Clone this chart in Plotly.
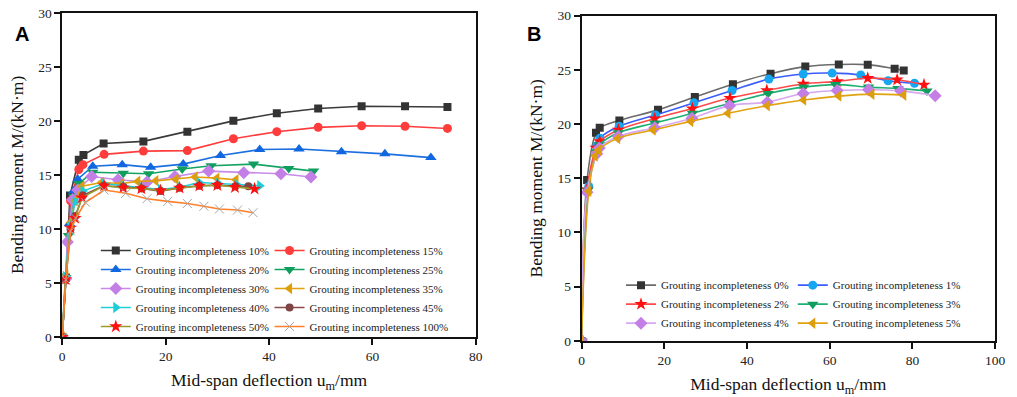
import plotly.graph_objects as go

W, H = 1017, 397
FONT = "Times New Roman, Liberation Serif, serif"

# ---------------- Panel A data ----------------
a_labels = ["10%", "15%", "20%", "25%", "30%", "35%", "40%", "45%", "50%", "100%"]

a_x_10 = [0, 0.7, 1.5, 3.2, 4.1, 8.0, 15.7, 24.2, 33.1, 41.5, 49.5, 57.9, 66.3, 74.5]
a_y_10 = [0, 5.5, 13.1, 16.4, 16.85, 17.9, 18.1, 19.0, 20.0, 20.7, 21.15, 21.35, 21.35, 21.28]

a_x_15 = [0, 0.7, 1.6, 3.2, 4.0, 8.1, 15.7, 24.2, 33.1, 41.5, 49.5, 57.9, 66.3, 74.5]
a_y_15 = [0, 5.4, 12.6, 15.5, 15.95, 16.9, 17.2, 17.25, 18.35, 19.0, 19.4, 19.55, 19.5, 19.3]

a_x_20 = [0, 0.7, 1.4, 2.2, 3.0, 5.9, 11.6, 17.1, 23.4, 30.6, 38.2, 45.8, 54.0, 62.4, 71.3]
a_y_20 = [0, 5.6, 10.5, 13.5, 14.6, 15.8, 15.95, 15.7, 16.0, 16.8, 17.35, 17.4, 17.15, 16.95, 16.6]

a_x_25 = [0, 0.7, 1.2, 2.2, 3.2, 5.9, 11.8, 16.7, 23.2, 28.8, 37.0, 43.8, 48.6]
a_y_25 = [0, 5.5, 9.4, 13.0, 14.2, 15.25, 15.15, 15.1, 15.55, 15.85, 16.0, 15.6, 15.35]

a_x_30 = [0, 0.7, 1.0, 2.0, 3.0, 5.7, 10.8, 16.4, 21.8, 28.3, 35.1, 42.3, 48.1]
a_y_30 = [0, 5.4, 8.8, 12.7, 13.6, 14.85, 14.55, 14.35, 14.85, 15.35, 15.2, 15.1, 14.8]

a_x_35 = [0, 0.7, 1.6, 2.5, 3.8, 7.6, 11.5, 14.6, 18.1, 22.0, 25.7, 29.9, 33.6]
a_y_35 = [0, 5.7, 10.6, 12.6, 13.95, 14.3, 14.2, 14.4, 14.45, 14.6, 14.8, 14.7, 14.55]

a_x_40 = [0, 0.6, 1.5, 2.5, 4.0, 8.0, 11.8, 15.3, 19.0, 22.7, 26.5, 30.2, 33.8, 38.2]
a_y_40 = [0, 5.6, 10.2, 12.5, 13.5, 14.2, 14.0, 13.85, 13.65, 13.85, 14.3, 14.2, 14.1, 14.0]

a_x_45 = [0, 0.7, 1.6, 2.5, 4.0, 8.0, 11.8, 15.4, 19.0, 22.7, 26.5, 30.0, 33.5, 36.0]
a_y_45 = [0, 5.3, 10.0, 11.2, 13.1, 14.0, 13.9, 13.75, 13.5, 13.8, 14.0, 14.05, 13.95, 13.95]

a_x_50 = [0, 0.64, 1.6, 2.5, 3.8, 8.1, 11.8, 15.3, 19.0, 22.7, 26.5, 30.0, 33.4, 37.2]
a_y_50 = [0, 5.34, 10.1, 11.0, 12.9, 14.0, 13.8, 13.74, 13.56, 13.8, 13.98, 14.04, 13.86, 13.71]

a_x_100 = [0, 0.7, 1.6, 2.6, 4.5, 8.1, 12.3, 16.4, 20.4, 24.2, 27.4, 30.4, 33.9, 36.9]
a_y_100 = [0, 5.3, 9.8, 11.0, 12.46, 13.6, 13.3, 12.8, 12.55, 12.35, 12.1, 11.85, 11.75, 11.5]

# ---------------- Panel B data ----------------
b_labels = ["0%", "1%", "2%", "3%", "4%", "5%"]

b_x_0 = [0, 1.35, 3.5, 4.4, 9.15, 18.5, 27.4, 36.6, 45.7, 54.1, 62.2, 69.2, 75.7, 77.9]
b_y_0 = [0, 14.84, 19.2, 19.65, 20.34, 21.31, 22.5, 23.68, 24.65, 25.3, 25.5, 25.48, 25.1, 24.95]

b_x_1 = [0, 1.75, 3.7, 4.45, 9.1, 17.9, 27.2, 36.4, 45.3, 53.6, 60.6, 67.5, 74.1, 80.5]
b_y_1 = [0, 14.25, 18.0, 18.7, 19.8, 20.84, 21.96, 23.1, 24.15, 24.62, 24.7, 24.53, 24.0, 23.77]

b_x_2 = [0, 1.35, 3.5, 4.4, 8.9, 17.7, 26.8, 35.9, 44.8, 53.6, 61.8, 69.2, 76.3, 82.8]
b_y_2 = [0, 13.95, 17.8, 18.4, 19.45, 20.5, 21.43, 22.4, 23.1, 23.7, 23.94, 24.23, 24.09, 23.62]

b_x_3 = [0, 1.5, 3.7, 4.4, 8.9, 17.7, 26.8, 35.9, 45.1, 53.7, 61.4, 69.4, 76.5, 83.5]
b_y_3 = [0, 13.9, 17.44, 18.1, 19.2, 20.1, 20.99, 21.93, 22.82, 23.41, 23.64, 23.41, 23.29, 23.06]

b_x_4 = [0, 1.35, 3.7, 4.3, 8.9, 17.7, 26.7, 35.8, 44.9, 53.6, 61.8, 69.4, 77.2, 85.5]
b_y_4 = [0, 13.7, 17.26, 17.8, 18.86, 19.66, 20.54, 21.7, 22.02, 22.82, 23.09, 23.17, 23.06, 22.61]

b_x_5 = [0, 1.75, 3.3, 4.1, 8.75, 17.3, 26.4, 35.4, 44.9, 53.7, 62.2, 70.2, 77.9]
b_y_5 = [0, 13.8, 17.06, 17.59, 18.68, 19.45, 20.25, 21.0, 21.7, 22.22, 22.58, 22.76, 22.67]

fig = go.Figure()


def add(x, y, name, xa, ya, line_color, marker_color, symbol, size, legend, shape="linear"):
    fig.add_trace(go.Scatter(
        x=x, y=y, name="Grouting incompleteness " + name, mode="lines+markers",
        xaxis=xa, yaxis=ya, legend=legend,
        line=dict(color=line_color, width=1.6, shape=shape, smoothing=1.0),
        marker=dict(color=marker_color, symbol=symbol, size=size,
                    line=dict(width=1 if symbol == "x-thin" else 0, color=marker_color)),
    ))


# Panel A traces
add(a_x_10, a_y_10, a_labels[0], "x", "y", "#3a3a3a", "#333333", "square", 8, "legend")
add(a_x_15, a_y_15, a_labels[1], "x", "y", "#ff3c3c", "#ff3c3c", "circle", 9, "legend2")
add(a_x_20, a_y_20, a_labels[2], "x", "y", "#1c6fe0", "#1067e0", "triangle-up", 10, "legend")
add(a_x_25, a_y_25, a_labels[3], "x", "y", "#13a463", "#0f9e5e", "triangle-down", 10, "legend2")
add(a_x_30, a_y_30, a_labels[4], "x", "y", "#c98aea", "#c47fe6", "diamond", 10, "legend")
add(a_x_35, a_y_35, a_labels[5], "x", "y", "#e0a20e", "#dd9d0c", "triangle-left", 10, "legend2")
add(a_x_40, a_y_40, a_labels[6], "x", "y", "#20d0d8", "#1fcdd6", "triangle-right", 10, "legend")
add(a_x_45, a_y_45, a_labels[7], "x", "y", "#8a4c4c", "#804444", "circle", 8, "legend2")
add(a_x_50, a_y_50, a_labels[8], "x", "y", "#9c9c2c", "#ff1010", "star", 10, "legend")
add(a_x_100, a_y_100, a_labels[9], "x", "y", "#ff7f2a", "#a8a8a8", "x-thin", 9, "legend2")

# Panel B traces (smoothed)
add(b_x_0, b_y_0, b_labels[0], "x2", "y2", "#6b6b6b", "#333333", "square", 8, "legend3", "spline")
add(b_x_1, b_y_1, b_labels[1], "x2", "y2", "#3a5cff", "#16a6f2", "circle", 9, "legend4", "spline")
add(b_x_2, b_y_2, b_labels[2], "x2", "y2", "#ff4a4a", "#ff1010", "star", 10, "legend3", "spline")
add(b_x_3, b_y_3, b_labels[3], "x2", "y2", "#1fae73", "#0f9e5e", "triangle-down", 10, "legend4", "spline")
add(b_x_4, b_y_4, b_labels[4], "x2", "y2", "#d7a8f0", "#c47fe6", "diamond", 10, "legend3", "spline")
add(b_x_5, b_y_5, b_labels[5], "x2", "y2", "#e0a20e", "#dd9d0c", "triangle-left", 10, "legend4", "spline")


def px_x(p):
    return p / W


def px_y(p):
    return 1 - p / H


A_XD = [px_x(60), px_x(479)]
A_YD = [px_y(343), px_y(6)]
B_XD = [px_x(586), px_x(1005)]
B_YD = [px_y(347), px_y(9)]

tick_font = dict(family=FONT, size=13.5, color="#222")
title_font = dict(family=FONT, size=17.5, color="#111")


def main_axis(domain, rng, dtick, anchor, title, standoff):
    return dict(
        domain=domain, range=rng, dtick=dtick, tick0=0, anchor=anchor,
        showgrid=False, zeroline=False, showline=True, linecolor="#111", linewidth=1.5,
        mirror=True, ticks="outside", ticklen=6, tickwidth=1.5, tickcolor="#111",
        tickfont=tick_font, title=dict(text=title, font=title_font, standoff=standoff),
    )


def overlay_axis(domain, rng, dtick, overlaying, anchor, minor_dtick):
    return dict(
        domain=domain, range=rng, dtick=dtick, tick0=0, overlaying=overlaying, anchor=anchor,
        showgrid=False, zeroline=False, showline=False, showticklabels=False,
        ticks="inside", ticklen=6, tickwidth=1.5, tickcolor="#111",
        minor=dict(dtick=minor_dtick, tick0=0, ticks="inside", ticklen=3.5, tickwidth=1.2,
                   tickcolor="#111", showgrid=False),
    )


XT = "Mid-span deflection u<sub>m</sub>/mm"
YT = "Bending moment M/(kN·m)"

fig.update_layout(
    width=W, height=H, margin=dict(l=0, r=0, t=0, b=0),
    paper_bgcolor="white", plot_bgcolor="white", showlegend=True,
    font=dict(family=FONT, color="#222"),
    xaxis=main_axis(A_XD, [0, 80], 20, "y", XT, 11),
    yaxis=main_axis(A_YD, [0, 30], 5, "x", YT, 10),
    xaxis2=main_axis(B_XD, [0, 100], 20, "y2", XT, 11),
    yaxis2=main_axis(B_YD, [0, 30], 5, "x2", YT, 10),
    xaxis3=overlay_axis(A_XD, [0, 80], 20, "x", "y", 10),
    yaxis3=overlay_axis(A_YD, [0, 30], 5, "y", "x", 2.5),
    xaxis4=overlay_axis(B_XD, [0, 100], 20, "x2", "y2", 10),
    yaxis4=overlay_axis(B_YD, [0, 30], 5, "y2", "x2", 2.5),
)

leg_common = dict(font=dict(family=FONT, size=11, color="#222"), bgcolor="rgba(0,0,0,0)",
                  borderwidth=0, xanchor="left", yanchor="top", orientation="v",
                  tracegroupgap=0, itemwidth=30)
fig.update_layout(
    legend=dict(x=px_x(94), y=px_y(238), **leg_common),
    legend2=dict(x=px_x(270), y=px_y(238), **leg_common),
    legend3=dict(x=px_x(626), y=px_y(274), **leg_common),
    legend4=dict(x=px_x(800), y=px_y(274), **leg_common),
)

fig.add_annotation(text="<b>A</b>", x=px_x(10), y=px_y(15), xref="paper", yref="paper",
                   showarrow=False, font=dict(family="Arial, Liberation Sans, sans-serif", size=20, color="#000"))
fig.add_annotation(text="<b>B</b>", x=px_x(538), y=px_y(15), xref="paper", yref="paper",
                   showarrow=False, font=dict(family="Arial, Liberation Sans, sans-serif", size=20, color="#000"))

fig.write_html("out.html", config={"displayModeBar": False},
               post_script="document.body.style.margin='0';")
